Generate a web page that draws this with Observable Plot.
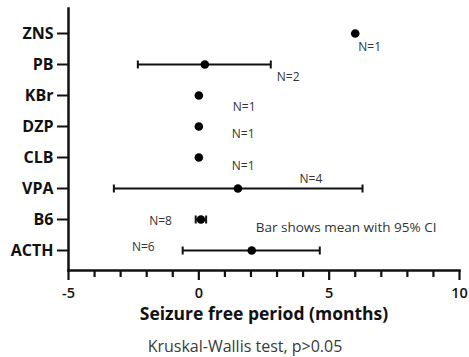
<!DOCTYPE html>
<html>
<head>
<meta charset="utf-8">
<script src="https://cdn.jsdelivr.net/npm/d3@7"></script>
<script src="https://cdn.jsdelivr.net/npm/@observablehq/plot@0.6"></script>
<style>
  html, body { margin: 0; padding: 0; background: #fff; }
  #chart { width: 469px; }
  #chart g[aria-label="y-axis tick label"] text { font-weight: 700; }
  #chart g[aria-label="x-axis tick label"] text { font-weight: 600; }
  .caption {
    font-family: "Open Sans", sans-serif;
    font-size: 16px;
    line-height: 22px;
    color: #3a3a3a;
    width: 469px;
    box-sizing: border-box;
    text-align: center;
    padding-left: 21px;
    margin-top: 5px;
  }
</style>
</head>
<body>
<div id="chart"></div>
<div class="caption">Kruskal-Wallis test, p&gt;0.05</div>
<script>
// Seizure-free period by treatment: mean with 95% CI (months)
const drugs  = ["ZNS", "PB", "KBr", "DZP", "CLB", "VPA", "B6", "ACTH"];
const means  = [6.0, 0.23, 0, 0, 0, 1.5, 0.08, 2.03];
const ciLow  = [null, -2.34, null, null, null, -3.26, -0.12, -0.62];
const ciHigh = [null, 2.76, null, null, null, 6.28, 0.28, 4.64];
const counts = [1, 2, 1, 1, 1, 4, 8, 6];

const majorTicks = [-5, 0, 5, 10];
const minorTicks = [-4, -3, -2, -1, 1, 2, 3, 4, 6, 7, 8, 9];

const rows = drugs.map((drug, i) => ({
  drug, mean: means[i], low: ciLow[i], high: ciHigh[i], n: counts[i]
}));
const bars = rows.filter(d => d.low != null);

// short vertical stroke used for the whisker caps
const capSymbol = {
  draw(context, size) {
    const h = Math.sqrt(size / Math.PI);
    context.moveTo(0, -h);
    context.lineTo(0, h);
  }
};

// where each "N=" label sits relative to its row
const nPlacement = {
  ZNS:  {at: "mean", dx: 3,   dy: 14, anchor: "start"},
  PB:   {at: "high", dx: 6,   dy: 13, anchor: "start"},
  KBr:  {at: "mean", dx: 34,  dy: 12, anchor: "start"},
  DZP:  {at: "mean", dx: 33,  dy: 8,  anchor: "start"},
  CLB:  {at: "mean", dx: 33,  dy: 9,  anchor: "start"},
  VPA:  {at: "mean", dx: 73,  dy: -9, anchor: "middle"},
  B6:   {at: "mean", dx: -29, dy: 2,  anchor: "end"},
  ACTH: {at: "low",  dx: -28, dy: -3, anchor: "end"}
};

const nLabels = drugs.map(drug => {
  const p = nPlacement[drug];
  return Plot.text(rows.filter(d => d.drug === drug), {
    x: p.at, y: "drug", text: d => `N=${d.n}`,
    dx: p.dx, dy: p.dy, textAnchor: p.anchor,
    fontSize: 12, fill: "#333"
  });
});

const chart = Plot.plot({
  width: 469,
  height: 330,
  marginTop: 8,
  marginLeft: 68,
  marginRight: 10,
  marginBottom: 60,
  style: {fontFamily: "'Open Sans', sans-serif", color: "#111", background: "white"},
  x: {domain: [-5, 10]},
  y: {type: "point", domain: drugs, padding: 0, insetTop: 24, insetBottom: 20},
  marks: [
    Plot.axisX({ticks: minorTicks, tickSize: 7, strokeWidth: 2.2, tickFormat: () => "", label: null}),
    Plot.axisX({ticks: majorTicks, tickSize: 10, strokeWidth: 2.2, tickPadding: 7, fontSize: 14.5,
      tickFormat: d => `${d}`, label: null}),
    Plot.axisY({tickSize: 11, tickPadding: 4, strokeWidth: 2, fontSize: 16, label: null}),
    Plot.frame({anchor: "left", strokeWidth: 2.5}),
    Plot.frame({anchor: "bottom", strokeWidth: 2.5}),
    Plot.ruleY(bars, {x1: "low", x2: "high", y: "drug", strokeWidth: 2, stroke: "#111"}),
    Plot.dot(bars, {x: "low", y: "drug", symbol: capSymbol, r: 4, stroke: "#111", strokeWidth: 2, fill: "none"}),
    Plot.dot(bars, {x: "high", y: "drug", symbol: capSymbol, r: 4, stroke: "#111", strokeWidth: 2, fill: "none"}),
    Plot.dot(rows, {x: "mean", y: "drug", r: 4.3, fill: "#000"}),
    ...nLabels,
    Plot.text(["Bar shows mean with 95% CI"], {
      x: () => 5.65, y: () => "B6", dy: 8, textAnchor: "middle", fontSize: 13.5, fill: "#333"
    }),
    Plot.text(["Seizure free period (months)"], {
      frameAnchor: "bottom", dy: 49, fontSize: 17.5, fontWeight: "bold", fill: "#111"
    })
  ]
});

document.getElementById("chart").append(chart);
</script>
</body>
</html>
